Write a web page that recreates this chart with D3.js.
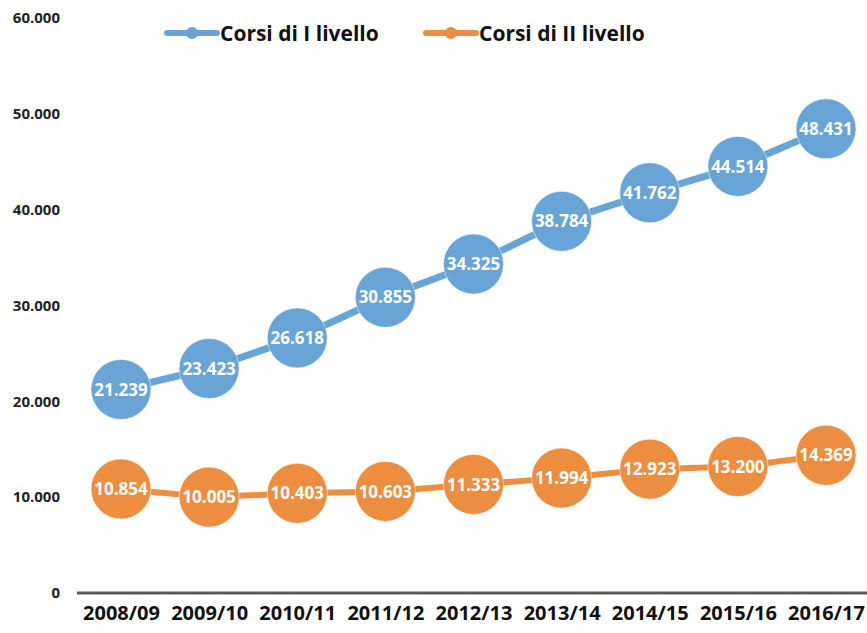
<!DOCTYPE html>
<html>
<head>
<meta charset="utf-8">
<script src="https://cdn.jsdelivr.net/npm/d3@7"></script>
<style>
  body { margin: 0; background: #fff; }
  svg, svg text { font-family: "Open Sans", "Noto Sans", sans-serif; }
</style>
</head>
<body>
<div id="chart"></div>
<script>
const anni = ["2008/09", "2009/10", "2010/11", "2011/12", "2012/13", "2013/14", "2014/15", "2015/16", "2016/17"];
const corsiPrimo = [21239, 23423, 26618, 30855, 34325, 38784, 41762, 44514, 48431];
const corsiSecondo = [10854, 10005, 10403, 10603, 11333, 11994, 12923, 13200, 14369];
const yTicks = [0, 10000, 20000, 30000, 40000, 50000, 60000];
const serieNomi = ["Corsi di I livello", "Corsi di II livello"];

const width = 867, height = 633;
const blu = "#68a4d6", arancio = "#ec8d40";
const font = '"Open Sans", "Noto Sans", sans-serif';

const svg = d3.select("#chart").append("svg")
    .attr("width", width)
    .attr("height", height);

// scales
const x = d3.scalePoint().domain(anni).range([121, 826]);
const y = d3.scaleLinear().domain([0, 60000]).range([593, 18]);

const fmt = d => d === 0 ? "0" : d3.format(",")(d).replace(/,/g, ".");

// y axis labels (no line)
const yAxis = d3.axisLeft(y).tickValues(yTicks).tickFormat(fmt).tickSize(0).tickPadding(0);
const gy = svg.append("g").attr("transform", "translate(60,0)").call(yAxis)
    .attr("font-family", font);
gy.select(".domain").remove();
gy.selectAll("text")
    .attr("fill", "#222")
    .style("font-size", "15px")
    .style("font-weight", "bold");

// x axis
const xAxis = d3.axisBottom(x).tickSize(0).tickPadding(13);
const gx = svg.append("g").attr("transform", "translate(0,593)").call(xAxis)
    .attr("font-family", font);
gx.select(".domain")
    .attr("d", "M77,0H867")
    .attr("stroke", "#595959")
    .attr("stroke-width", 3);
gx.selectAll("text")
    .attr("fill", "#111")
    .style("font-size", "20px")
    .style("font-weight", "bold");

// series
const serie = [
    { nome: serieNomi[0], valori: corsiPrimo, colore: blu, spessore: 7 },
    { nome: serieNomi[1], valori: corsiSecondo, colore: arancio, spessore: 6 }
];

const line = d3.line()
    .x((d, i) => x(anni[i]))
    .y(d => y(d));

serie.forEach(s => {
    const g = svg.append("g");
    g.append("path")
        .attr("d", line(s.valori))
        .attr("fill", "none")
        .attr("stroke", s.colore)
        .attr("stroke-width", s.spessore);

    g.selectAll("circle")
        .data(s.valori)
        .enter()
        .append("circle")
        .attr("cx", (d, i) => x(anni[i]))
        .attr("cy", d => y(d))
        .attr("r", 30)
        .attr("fill", s.colore)
        .attr("stroke", "#fff")
        .attr("stroke-opacity", 0.5)
        .attr("stroke-width", 1);

    g.selectAll("text")
        .data(s.valori)
        .enter()
        .append("text")
        .attr("x", (d, i) => x(anni[i]))
        .attr("y", d => y(d))
        .attr("dy", "0.36em")
        .attr("text-anchor", "middle")
        .attr("fill", "#fff")
        .style("font-size", "17px")
        .style("font-weight", "bold")
        .text(fmt);
});

// legend
const legenda = svg.append("g");
const legX = [167, 426];
serie.forEach((s, i) => {
    const lg = legenda.append("g").attr("transform", `translate(${legX[i]},33)`);
    lg.append("line")
        .attr("x1", 0).attr("x2", 50)
        .attr("stroke", s.colore)
        .attr("stroke-width", 6)
        .attr("stroke-linecap", "round");
    lg.append("circle")
        .attr("cx", 25).attr("r", 6)
        .attr("fill", s.colore);
    lg.append("text")
        .attr("x", 53)
        .attr("dy", "0.36em")
        .attr("fill", "#111")
        .style("font-size", "21px")
        .style("font-weight", "bold")
        .text(s.nome);
});
</script>
</body>
</html>
